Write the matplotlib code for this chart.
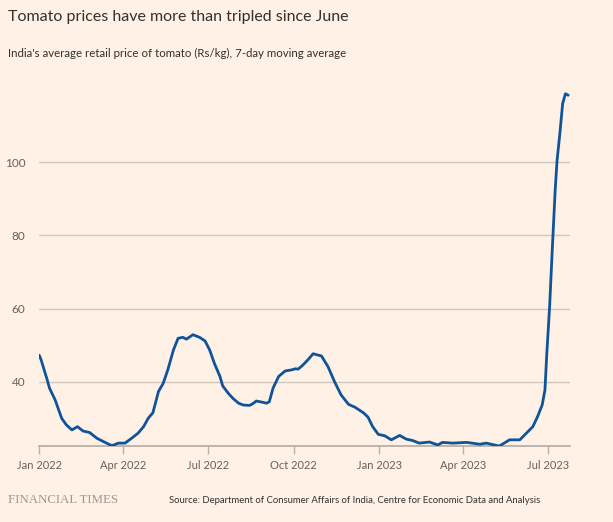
import matplotlib
matplotlib.use('Agg')
import matplotlib.pyplot as plt
import matplotlib.dates as mdates
import pandas as pd

# 7-day moving average of retail tomato price, Rs/kg
dates = [
    '2022-01-01', '2022-01-03', '2022-01-09', '2022-01-12', '2022-01-18', '2022-01-25',
    '2022-01-30', '2022-02-05', '2022-02-11', '2022-02-17', '2022-02-24', '2022-03-04',
    '2022-03-11', '2022-03-20', '2022-03-27', '2022-04-03', '2022-04-10', '2022-04-17',
    '2022-04-23', '2022-04-28', '2022-05-03', '2022-05-09', '2022-05-14', '2022-05-19',
    '2022-05-25', '2022-05-30', '2022-06-04', '2022-06-08', '2022-06-15', '2022-06-22',
    '2022-06-28', '2022-07-03', '2022-07-08', '2022-07-14', '2022-07-17', '2022-07-23',
    '2022-07-28', '2022-08-03', '2022-08-08', '2022-08-15', '2022-08-19', '2022-08-22',
    '2022-08-28', '2022-09-02', '2022-09-05', '2022-09-09', '2022-09-15', '2022-09-22',
    '2022-09-29', '2022-10-03', '2022-10-06', '2022-10-11', '2022-10-17', '2022-10-22',
    '2022-10-31', '2022-11-07', '2022-11-14', '2022-11-21', '2022-11-29', '2022-12-06',
    '2022-12-15', '2022-12-20', '2022-12-25', '2022-12-31', '2023-01-07', '2023-01-14',
    '2023-01-23', '2023-01-30', '2023-02-06', '2023-02-13', '2023-02-24', '2023-03-05',
    '2023-03-10', '2023-03-21', '2023-04-05', '2023-04-19', '2023-04-26', '2023-05-10',
    '2023-05-21', '2023-06-01', '2023-06-08', '2023-06-15', '2023-06-20', '2023-06-25',
    '2023-06-28', '2023-06-30', '2023-07-03', '2023-07-06', '2023-07-09', '2023-07-11',
    '2023-07-14', '2023-07-17', '2023-07-20', '2023-07-23',
]
prices = [
    47.3, 46.0, 41.0, 38.3, 35.1, 30.1,
    28.3, 26.9, 27.8, 26.6, 26.2, 24.6,
    23.7, 22.6, 23.3, 23.3, 24.6, 26.0,
    27.8, 30.1, 31.6, 37.4, 39.6, 43.3,
    48.7, 51.9, 52.2, 51.7, 52.9, 52.2,
    51.2, 48.7, 45.1, 41.5, 38.9, 36.9,
    35.5, 34.2, 33.7, 33.6, 34.2, 34.8,
    34.5, 34.2, 34.6, 38.3, 41.5, 43.0,
    43.3, 43.6, 43.5, 44.6, 46.2, 47.7,
    47.1, 44.2, 40.1, 36.5, 33.9, 33.1,
    31.6, 30.4, 27.8, 25.7, 25.3, 24.2,
    25.4, 24.4, 24.0, 23.3, 23.6, 22.8,
    23.5, 23.3, 23.5, 23.0, 23.3, 22.5,
    24.2, 24.2, 26.0, 27.8, 30.5, 33.7,
    37.8, 47.8, 60.5, 76.9, 92.4, 100.5,
    107.8, 116.0, 118.7, 118.3,
]

yticks = [40, 60, 80, 100]
xtick_dates = ['2022-01-01', '2022-04-01', '2022-07-01', '2022-10-01',
               '2023-01-01', '2023-04-01', '2023-07-01']

bg = '#FFF1E5'
line_col = '#0F5499'
grid_col = '#CFC7BD'
text_dark = '#33302E'
text_mid = '#66605C'

plt.rcParams['font.family'] = ['Lato', 'DejaVu Sans']

fig = plt.figure(figsize=(6.13, 5.22), dpi=100, facecolor=bg)
ax = fig.add_axes([0.0641, 0.1462, 0.8659, 0.6833])
ax.set_facecolor(bg)

x = pd.to_datetime(dates)
ax.plot(x, prices, color=line_col, linewidth=2.0, solid_joinstyle='round',
        solid_capstyle='round', zorder=3)

ax.set_xlim(pd.Timestamp('2022-01-01'), pd.Timestamp('2023-07-25'))
ax.set_ylim(22.6, 120)

ax.set_yticks(yticks)
ax.set_yticklabels([str(v) for v in yticks])
ax.set_xticks(pd.to_datetime(xtick_dates))
ax.xaxis.set_major_formatter(mdates.DateFormatter('%b %Y'))

ax.grid(True, axis='y', color=grid_col, linewidth=1.0, zorder=0)
for s in ['top', 'right', 'left']:
    ax.spines[s].set_visible(False)
ax.spines['bottom'].set_color('#B8AFA6')
ax.spines['bottom'].set_linewidth(1.3)

ax.tick_params(axis='y', length=0, pad=10, labelsize=8.5, labelcolor=text_mid)
ax.tick_params(axis='x', length=6, width=1, color='#B8AFA6', pad=4,
               labelsize=8, labelcolor=text_mid)

fig.text(0.013, 0.968, 'Tomato prices have more than tripled since June',
         fontsize=11.5, color=text_dark, va='center', ha='left')
fig.text(0.013, 0.898,
         "India's average retail price of tomato (Rs/kg), 7-day moving average",
         fontsize=8.3, color=text_dark, va='center', ha='left')
fig.text(0.013, 0.042, 'FINANCIAL TIMES', fontsize=9.3, color='#9E9690',
         va='center', ha='left', family='Liberation Serif')
fig.text(0.276, 0.042,
         'Source: Department of Consumer Affairs of India, Centre for Economic Data and Analysis',
         fontsize=6.8, color=text_dark, va='center', ha='left')

fig.savefig('out.png', dpi=100, facecolor=bg)
